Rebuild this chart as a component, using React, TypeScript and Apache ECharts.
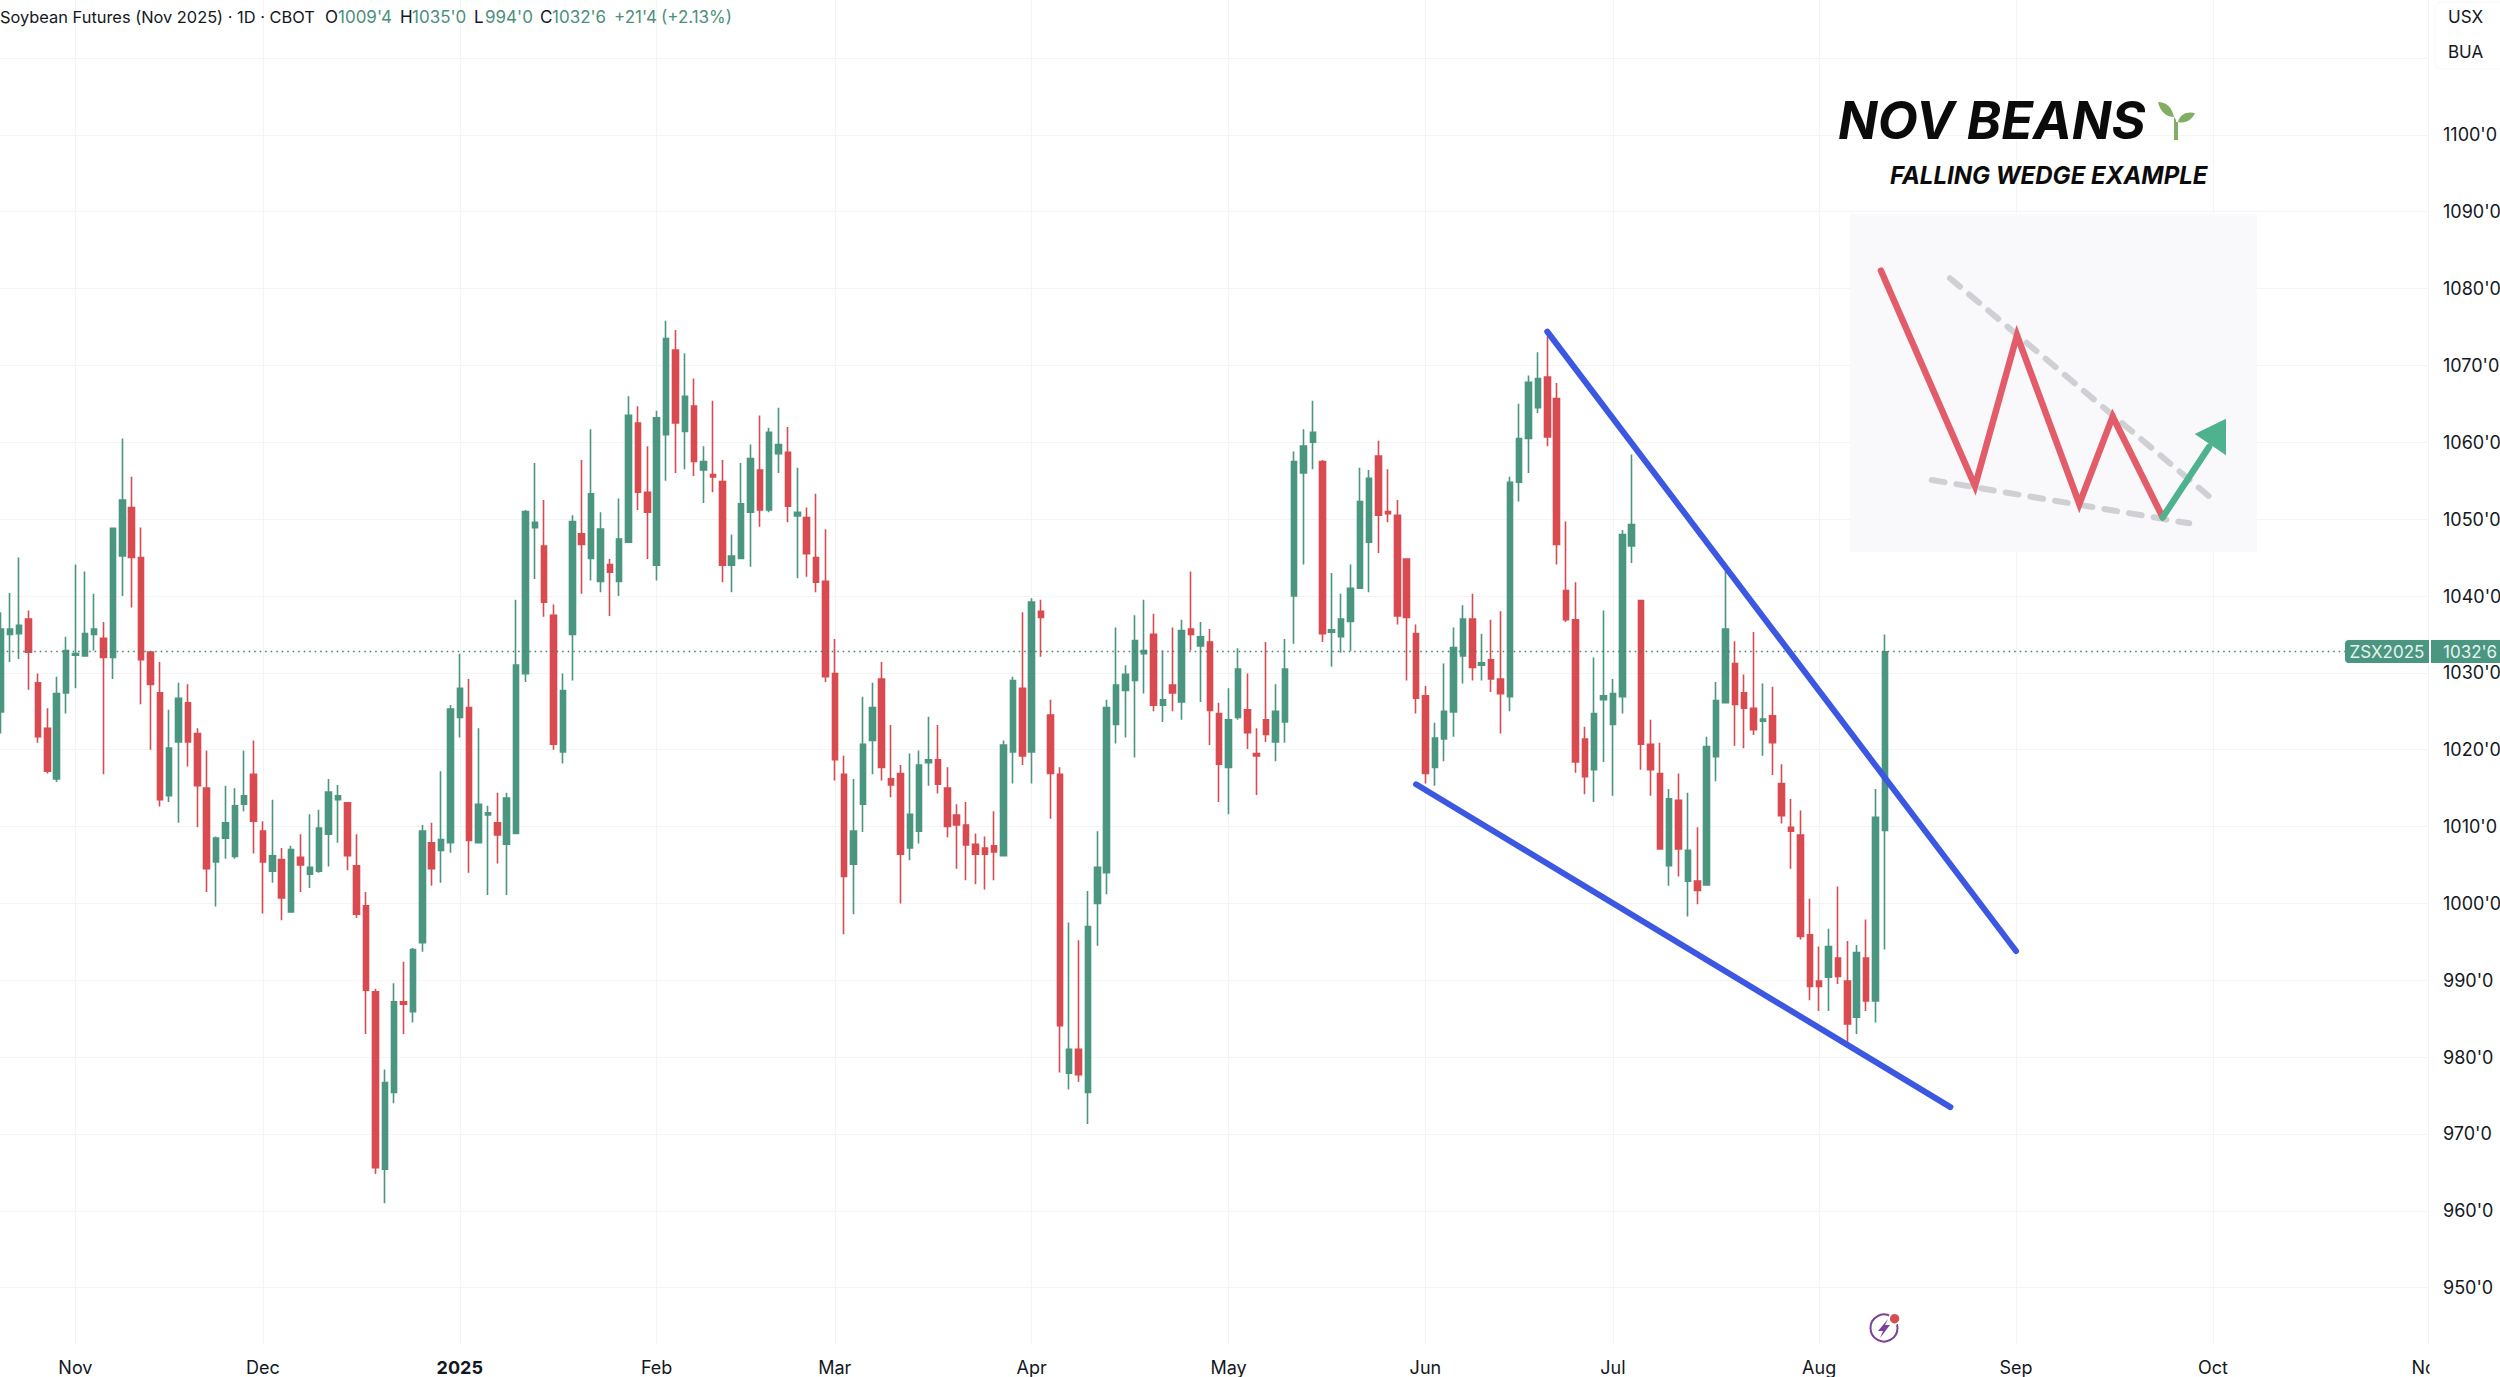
import React, { useEffect, useRef } from "react";
import * as echarts from "echarts";

const monthTicks: Record<number, string> = {
  8: "Nov", 28: "Dec", 49: "2025", 70: "Feb", 89: "Mar", 110: "Apr", 131: "May",
  152: "Jun", 172: "Jul", 194: "Aug", 215: "Sep", 236: "Oct", 259: "Nov",
};
const categories: string[] = Array.from({ length: 260 }, (_, i) => String(i));

const opens = [
  1024.9,1035,1035.1,1037,1028.7,1022.8,1016.2,1027.4,1032.3,1032.2,
  1035,1034.5,1032,1045.2,1051.5,1045,1032.7,1027.4,1014,1021,
  1026.1,1022.1,1015,1005.4,1008.5,1006.1,1012.9,1016.8,1009.4,1004.2,
  1005.7,998.9,1006,1003.8,1004.2,1009,1013.5,1013.1,1004.9,999.7,
  988.5,965.4,975.4,987.2,985.9,994.9,1007.9,1006.9,1007.9,1024.2,
  1025.5,1007.9,1011.5,1010.5,1007.7,1009.1,1029.9,1048.9,1046.5,1037.5,
  1019.7,1035,1048.1,1044.9,1041.9,1044.1,1041.9,1047,1062.5,1053.5,
  1044,1061,1072,1061.4,1064.7,1056.4,1055.8,1054.9,1044,1044.9,
  1050.9,1056.4,1051.2,1058.5,1058.7,1050.4,1050.2,1045,1041.9,1029.9,
  1016.8,1005.1,1012.9,1021.2,1029.2,1016.2,1016.9,1007.2,1009.4,1018.3,
  1018.7,1015,1011.5,1010.2,1007.7,1007.2,1007.5,1006.2,1019.7,1028,
  1019.7,1038,1024.5,1016.8,977.9,981,975.4,1000,1004,1023.3,
  1027.7,1029,1032.5,1035,1025.8,1028.4,1026.2,1035.7,1033.5,1034,
  1024.7,1017.7,1024.2,1025.2,1019.5,1023.9,1021,1023.6,1040,1056,
  1060,1057.5,1035.3,1034.7,1036.7,1041,1047,1058.2,1051,1050.5,
  1044.8,1035.1,1027,1017.7,1021.4,1024.9,1032.2,1037,1031,1031.7,
  1029.2,1026.9,1054.8,1060.5,1064.5,1068.5,1065.7,1040.7,1036.9,1021.4,
  1017.4,1026.5,1023.3,1026.9,1046.5,1039.4,1020.7,1016.9,1004.9,1013.4,
  1002.9,1002.9,1002.4,1019.1,1026.1,1031.2,1027.4,1025.4,1023.7,1024.4,
  1015.6,1009.9,1008.9,995.9,989.9,990.4,992.9,989.9,985.2,992.9,
  987.3,1009.5,
];
const closes = [
  1035.7,1035.7,1036.2,1032.7,1021.7,1017.2,1027.3,1032.9,1032.5,1035.1,
  1035.7,1032,1048.8,1052.5,1045,1031.7,1028.5,1013.5,1020.2,1026.7,
  1021,1015.3,1004.5,1008.5,1010.5,1012.7,1014,1010.7,1005.4,1006.2,
  1000.7,1007,1005,1004.7,1009.8,1014.5,1014,1006.2,998.6,988.7,
  965.6,976.7,987.2,986.9,994,1009.4,1004.5,1008.3,1025.3,1028,
  1008.2,1012.9,1011.8,1008.9,1013.7,1031,1051,1049.6,1039.2,1020.7,
  1027.7,1049.7,1046.7,1053.3,1048.7,1043.1,1047.4,1063.5,1053.5,1050.9,
  1063.2,1073.5,1062.5,1066,1057.5,1057.5,1055.5,1044,1045.2,1052,
  1057.9,1051.2,1061.3,1059.7,1051.7,1050.9,1045.5,1041.8,1029.5,1018.7,
  1003.5,1009.4,1020.7,1025.5,1017.7,1015.4,1006.4,1011.6,1018,1018.7,
  1015.5,1010,1010.2,1007.6,1006.4,1006.4,1006.7,1020.6,1029,1019.2,
  1039.2,1037.2,1016.9,984.1,981,977.7,997,1004.7,1025.5,1028.4,
  1029.8,1034.2,1032.9,1025.8,1026.5,1027.4,1035.5,1035,1034.7,1025.1,
  1018.1,1023.9,1030.5,1022.2,1019.2,1022,1025,1030.5,1057.5,1059.5,
  1061.3,1035.1,1035.6,1037,1041,1052.3,1055.3,1050.5,1050.7,1037.4,
  1037.2,1026.7,1016.9,1021.5,1025,1033.3,1037,1030.7,1031.3,1029.2,
  1027.3,1054.8,1060.5,1067.8,1068.3,1060.7,1046.7,1036.9,1018.4,1016.5,
  1024.7,1027,1027.3,1048,1049.3,1020.7,1017.4,1007.1,1013.6,1007.1,
  1006.9,1001.7,1020.4,1026.4,1035.7,1025.9,1025.4,1022.6,1024,1020.9,
  1011.4,1009.4,995.7,989.2,989.2,994.4,990.5,984.3,993.6,987.3,
  1011.2,1032.75,
];
const highs = [
  1037.9,1040.4,1045,1038.1,1029.9,1025.4,1029.5,1034.7,1044.1,1043.2,
  1040.3,1036.6,1048.9,1060.5,1055.5,1048.9,1032.7,1031.4,1025.2,1028.7,
  1028.5,1022.8,1019.9,1008.7,1015.3,1015,1019.9,1021.2,1010.7,1013.5,
  1007.2,1007.5,1009,1011.6,1012.2,1016.2,1015.4,1013.1,1009,1001.5,
  988.9,978.4,989.6,992.4,994.2,1010.2,1010.5,1017.2,1025.8,1032.5,
  1029.2,1022.8,1012.7,1014.4,1014.4,1039.5,1051.2,1057.3,1052.5,1038.9,
  1029.9,1050.5,1057.7,1061.7,1050.9,1044.8,1052.7,1066,1064.7,1059.5,
  1064.1,1075.8,1074.6,1071.6,1068.3,1059.5,1065.4,1057.7,1048,1057.3,
  1059.7,1063.5,1061.9,1064.5,1062,1056.7,1051.5,1053.3,1048.7,1034.4,
  1019.2,1016.2,1026.9,1028.7,1031.4,1023.2,1018,1019.5,1019.9,1024.3,
  1023.2,1017.7,1012.9,1013.2,1009.1,1008.7,1012,1021.2,1029.5,1037.9,
  1039.7,1039.5,1026.5,1017.7,997.5,995.2,1001.6,1009.4,1026.5,1035.9,
  1031,1037.5,1039.5,1037.7,1032.9,1035.9,1036.9,1043.2,1036.6,1035.7,
  1026.1,1028,1033.2,1029.9,1022.8,1034,1028.5,1034.4,1058.8,1061.7,
  1065.4,1057.7,1043,1040.3,1044.1,1056.7,1056.4,1060.2,1056.5,1052.5,
  1044.8,1036.3,1028.3,1023.5,1031.2,1035.9,1038.8,1040.3,1035.1,1036.9,
  1038,1055.5,1065,1068.7,1071.7,1073.8,1067.7,1049.7,1041.8,1023,
  1032,1038.1,1029.2,1048.6,1058.4,1039.4,1023.9,1020.9,1014.9,1016.9,
  1014.4,1009.9,1021.7,1028.8,1043.2,1034.1,1029.8,1035.3,1028.6,1028.2,
  1018.1,1013.6,1012.1,1000.6,994.4,996.7,1002.2,995.1,994.6,997.9,
  1014.9,1035,
];
const lows = [
  1022.1,1031.4,1031.8,1027.8,1020.9,1016.9,1015.8,1024.7,1028,1032.2,
  1032.9,1016.8,1029.2,1040,1038.5,1025.9,1020,1012.6,1013.2,1010.5,
  1017.8,1009.9,1001.5,999.6,1005.8,1005.8,1012,1006.5,998.7,1002.7,
  997.8,998.9,1001.5,1002,1004,1004.8,1007.9,1004.3,998.1,983,
  964.8,961,974,983,984.5,993.7,1002.3,1002.7,1006.6,1021.6,
  1004,1007.9,1001.1,1005.2,1001.1,1009.1,1028.8,1042.2,1037.3,1020,
  1018.2,1029,1040.3,1042,1040.5,1037.4,1040,1047,1051.2,1044.8,
  1042,1055,1056,1056.5,1055.6,1052.1,1053.5,1041.8,1040.5,1044.8,
  1043.8,1049,1050.9,1056,1049.6,1042.3,1042.5,1040.5,1028.8,1016,
  996,998.6,1009.3,1016.8,1016,1013.8,1000,1005.6,1007.8,1015.3,
  1014.3,1008.6,1004.5,1003,1002.5,1001.8,1003,1006.2,1015.6,1018,
  1015.6,1032.1,1011,978,975.8,976.8,971.3,994.5,1001.2,1020.8,
  1021.6,1019,1027.3,1025,1023.6,1025,1023.9,1032.9,1026.2,1020.6,
  1013.2,1011.6,1023.9,1020.1,1014.1,1021,1018.5,1020.9,1033.8,1044.1,
  1056.5,1034,1030.8,1032.6,1032.8,1041,1040.5,1045.6,1049.6,1036.3,
  1029,1024.7,1015.6,1015.3,1018.5,1021.7,1028.6,1029,1029,1027.5,
  1022.1,1025,1052.3,1056,1063.8,1059.5,1044.1,1036.6,1017,1014.2,
  1013.2,1018.4,1014,1024.7,1044.3,1017.4,1014,1007,1002.3,1003.5,
  998.3,999.9,1002.4,1015.9,1026.1,1020.5,1020.2,1021.9,1019.2,1016.7,
  1010.4,1004.5,995.3,987.4,986,986,989.5,981.8,983,986,
  984.5,994,
];
const lastPrice = 1032.75;
const upperTrend: [number, number][] = [[165, 1074.4], [215, 993.8]];
const lowerTrend: [number, number][] = [[151, 1015.5], [208, 973.5]];

const UP = "#4a9680";
const DOWN = "#d94b50";
const GRID = "#f3f4f6";
const INK = "#131722";
const TEXT_GREEN = "#4b8f7c";
const UI_FONT = "Inter";

echarts.graphic.registerShape(
  "sprout",
  echarts.graphic.extendPath(
    "M1 0 C9 0 15 5 17 15 C10 15 3 10 1 0 Z M38 11 C30 9 23 12 21 20 C28 22 35 18 38 11 Z M17 15 C19 17 19 18 19 20 L21 20 L21 38 L17 38 Z",
    {}
  )
);

function txt(text: string, x: number, y: number, fill: string, font: string, align = "left") {
  return {
    type: "text",
    z: 50,
    style: { text, x, y, fill, font, align, verticalAlign: "middle", textAlign: align, textVerticalAlign: "middle" },
  };
}
function poly(points: number[][], stroke: string, lineWidth: number, lineDash?: number[]) {
  return {
    type: "polyline",
    z: 40,
    shape: { points },
    style: { stroke, lineWidth, lineCap: "round", lineJoin: "miter", fill: "none", lineDash },
  };
}

export default function App() {
  const ref = useRef<HTMLDivElement>(null);
  useEffect(() => {
    const chart = echarts.init(ref.current!, undefined, { renderer: "svg" });
    const headerFont = `17px ${UI_FONT}`;
    const titleFont = `16.4px ${UI_FONT}`;
    const option: any = {
      animation: false,
      backgroundColor: "#ffffff",
      grid: [
        { left: -4.29, top: 0, width: 2437.5, height: 1345, outerBoundsMode: "none" },
        { left: 0, top: -18.8, width: 2429, height: 1383.3, outerBoundsMode: "none" },
      ],
      xAxis: [
        {
          type: "category",
          gridIndex: 0,
          data: categories,
          axisLine: { show: false },
          axisTick: { show: false },
          splitLine: {
            show: true,
            alignWithLabel: true,
            interval: (i: number) => monthTicks[i] !== undefined,
            lineStyle: { color: GRID, width: 1 },
          },
          axisLabel: {
            interval: (i: number) => monthTicks[i] !== undefined,
            formatter: (v: string) => {
              const l = monthTicks[Number(v)];
              return l === "2025" ? `{b|${l}}` : l ?? "";
            },
            hideOverlap: false,
            margin: 13,
            color: INK,
            fontFamily: UI_FONT,
            fontSize: 18,
            rich: { b: { fontWeight: 700, fontFamily: UI_FONT, fontSize: 18, color: INK } },
          },
        },
        { type: "value", gridIndex: 1, min: 0, max: 1, show: false },
      ],
      yAxis: [
        { type: "value", gridIndex: 0, min: 942.54, max: 1117.55, show: false, splitLine: { show: false } },
        {
          type: "value",
          gridIndex: 1,
          position: "right",
          min: 940,
          max: 1120,
          interval: 10,
          axisLine: { show: false },
          axisTick: { show: false },
          splitLine: { show: true, showMinLine: false, showMaxLine: false, lineStyle: { color: GRID, width: 1 } },
          axisLabel: {
            margin: 14,
            color: INK,
            fontFamily: UI_FONT,
            fontSize: 18,
            formatter: (v: number) => (v >= 950 && v <= 1100 ? `${v}'0` : ""),
          },
        },
      ],
      series: [
        {
          type: "candlestick",
          name: "ZSX2025",
          xAxisIndex: 0,
          yAxisIndex: 0,
          barWidth: 6,
          data: opens.map((o, i) => [o, closes[i], lows[i], highs[i]]),
          itemStyle: { color: UP, color0: DOWN, borderColor: UP, borderColor0: DOWN, borderWidth: 1.6 },
          markLine: {
            silent: true,
            symbol: "none",
            label: { show: false },
            lineStyle: { color: "#3f7f6d", type: [1.5, 4], width: 1.4 },
            data: [{ yAxis: lastPrice }],
          },
        },
        {
          type: "line",
          name: "Upper wedge",
          xAxisIndex: 0,
          yAxisIndex: 0,
          data: upperTrend,
          symbol: "none",
          z: 10,
          lineStyle: { color: "#3c57e2", width: 6, cap: "round" },
        },
        {
          type: "line",
          name: "Lower wedge",
          xAxisIndex: 0,
          yAxisIndex: 0,
          data: lowerTrend,
          symbol: "none",
          z: 10,
          lineStyle: { color: "#3c57e2", width: 6, cap: "round" },
        },
      ],
      graphic: {
        elements: [
          // header
          txt("Soybean Futures (Nov 2025) · 1D · CBOT", 0, 17, INK, titleFont),
          txt("O", 325, 17, INK, headerFont),
          txt("1009'4", 338, 17, TEXT_GREEN, headerFont),
          txt("H", 400, 17, INK, headerFont),
          txt("1035'0", 412, 17, TEXT_GREEN, headerFont),
          txt("L", 474, 17, INK, headerFont),
          txt("994'0", 485, 17, TEXT_GREEN, headerFont),
          txt("C", 540, 17, INK, headerFont),
          txt("1032'6", 552, 17, TEXT_GREEN, headerFont),
          txt("+21'4", 614, 17, TEXT_GREEN, headerFont),
          txt("(+2.13%)", 661, 17, TEXT_GREEN, headerFont),
          // currency / unit chip
          { type: "rect", z: 45, shape: { x: 2435, y: 2, width: 80, height: 67, r: 6 }, style: { fill: "#ffffff", stroke: "#f7f7f8", lineWidth: 1 } },
          txt("USX", 2448, 17, INK, headerFont),
          txt("BUA", 2448, 52, INK, headerFont),
          // clip the last month label at the axis edge
          { type: "rect", z: 45, shape: { x: 2429.5, y: 1346, width: 71, height: 31 }, style: { fill: "#ffffff" } },
          // last price tags
          { type: "rect", z: 45, shape: { x: 2345, y: 640, width: 84, height: 23, r: [4, 0, 0, 4] }, style: { fill: UP } },
          { type: "rect", z: 45, shape: { x: 2431, y: 640, width: 69, height: 23 }, style: { fill: UP } },
          txt("ZSX2025", 2387, 652, "#e8f3ef", headerFont, "center"),
          txt("1032'6", 2443, 652, "#e8f3ef", headerFont),
          // title
          txt("NOV BEANS", 1838, 120, "#0b0b0b", "italic 700 52px Inter"),
          { type: "sprout", z: 50, x: 2157, y: 102, style: { fill: "#82ae63" } },
          txt("FALLING WEDGE EXAMPLE", 1890, 175, "#0b0b0b", "italic 700 24px Inter"),
          // inset
          { type: "rect", z: 30, shape: { x: 1850, y: 214, width: 407, height: 338 }, style: { fill: "#f9f9fb" } },
          poly([[1950, 278.3], [2208.7, 496]], "#cfd0d4", 6, [13, 12]),
          poly([[1931.7, 480], [2189.3, 523.3]], "#cfd0d4", 6, [13, 12]),
          poly([[1881, 270.7], [1975, 486], [2017, 335.3], [2079.3, 504], [2112.7, 416.7], [2162.7, 517.3]], "#e35c6a", 6.5),
          poly([[2162.7, 517.3], [2209, 447]], "#4fb28f", 6.5),
          { type: "polygon", z: 41, shape: { points: [[2226, 418.7], [2226, 455.3], [2194.7, 434]] }, style: { fill: "#4fb28f" } },
          // event icon
          { type: "circle", z: 41, shape: { cx: 1884, cy: 1328, r: 13.5 }, style: { fill: "#ffffff", stroke: "#7c3f9e", lineWidth: 2 } },
          { type: "polygon", z: 42, shape: { points: [[1888, 1319], [1878, 1331], [1883, 1331], [1880, 1338], [1890, 1325], [1885, 1325]] }, style: { fill: "#7c3f9e" } },
          { type: "circle", z: 43, shape: { cx: 1894.6, cy: 1318.7, r: 5.5 }, style: { fill: "#d4504f", stroke: "#ffffff", lineWidth: 1.5 } },
        ],
      },
    };
    chart.setOption(option);
    return () => chart.dispose();
  }, []);
  return (
    <div style={{ position: "fixed", left: 0, top: 0, width: 2500, height: 1377, overflow: "hidden", background: "#fff" }}>
      <div ref={ref} style={{ width: 2500, height: 1377 }} />
    </div>
  );
}
